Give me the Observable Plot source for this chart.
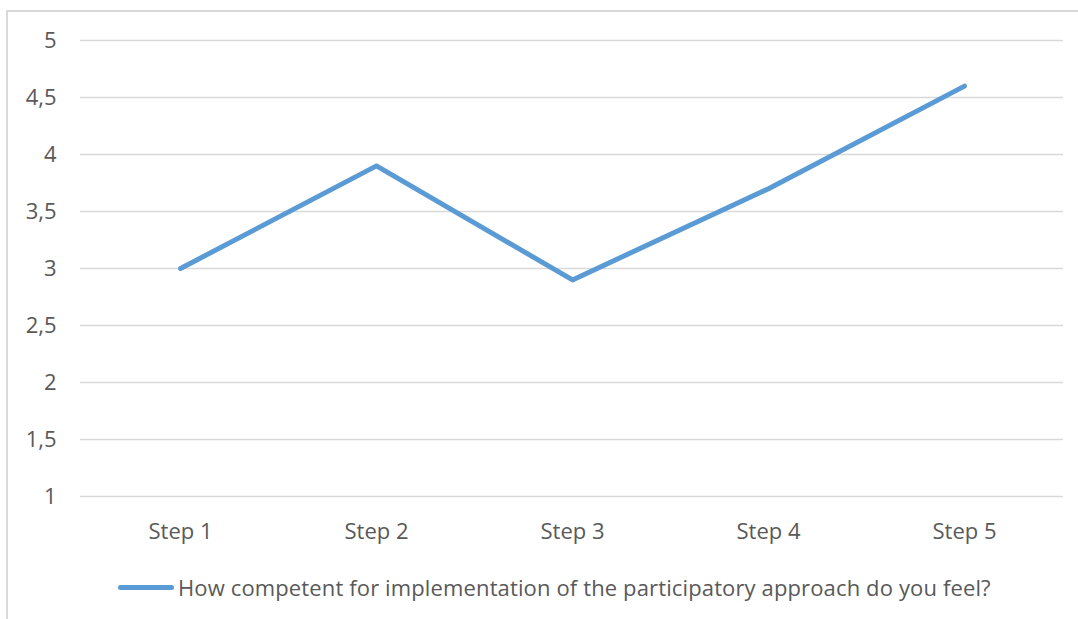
<!DOCTYPE html>
<html>
<head>
<meta charset="utf-8">
<script src="https://cdn.jsdelivr.net/npm/d3@7"></script>
<script src="https://cdn.jsdelivr.net/npm/@observablehq/plot@0.6"></script>
<style>
  html, body { margin: 0; padding: 0; background: #fff; overflow: hidden; width: 1078px; height: 619px; }
  #frame { position: absolute; left: 6px; top: 10px; width: 1200px; height: 800px; border: 2px solid #d9d9d9; box-sizing: border-box; }
  #chart { position: absolute; left: 0; top: 0; }
  #legend { position: absolute; left: 118px; top: 572px; height: 30px; display: flex; align-items: center;
            font-family: "Open Sans", sans-serif; font-size: 22px; letter-spacing: 0.13px; color: #595959; white-space: nowrap; }
  #legend .swatch { display: inline-block; width: 56px; height: 5px; border-radius: 3px; background: #5B9BD5; margin-right: 4px; }
</style>
</head>
<body>
<div id="frame"></div>
<div id="chart"></div>
<div id="legend"><span class="swatch"></span><span id="legendText"></span></div>
<script>
const categories = ["Step 1", "Step 2", "Step 3", "Step 4", "Step 5"];
const values = [3.0, 3.9, 2.9, 3.7, 4.6];
const yTicks = [1, 1.5, 2, 2.5, 3, 3.5, 4, 4.5, 5];
const seriesName = "How competent for implementation of the participatory approach do you feel?";

const data = categories.map((c, i) => ({step: c, value: values[i]}));
const fmt = d => String(d).replace(".", ",");

const chart = Plot.plot({
  width: 1078,
  height: 560,
  marginTop: 40,
  marginBottom: 64,
  marginLeft: 80,
  marginRight: 15,
  style: { fontFamily: "'Open Sans', sans-serif", fontSize: "22px", color: "#595959", background: "transparent" },
  x: { type: "point", domain: categories, padding: 0.5 },
  y: { domain: [1, 5] },
  marks: [
    Plot.gridY(yTicks, { stroke: "#d9d9d9", strokeOpacity: 1, strokeWidth: 1.5 }),
    Plot.axisY(yTicks, { tickSize: 0, tickPadding: 24, tickFormat: fmt, label: null, fill: "#595959", fontSize: 22 }),
    Plot.axisX({ tickSize: 0, tickPadding: 27, label: null, fill: "#595959", fontSize: 22 }),
    Plot.line(data, { x: "step", y: "value", stroke: "#5B9BD5", strokeWidth: 5, strokeLinecap: "round", strokeLinejoin: "round" })
  ]
});
document.getElementById("chart").appendChild(chart);
document.getElementById("legendText").textContent = seriesName;
</script>
</body>
</html>
